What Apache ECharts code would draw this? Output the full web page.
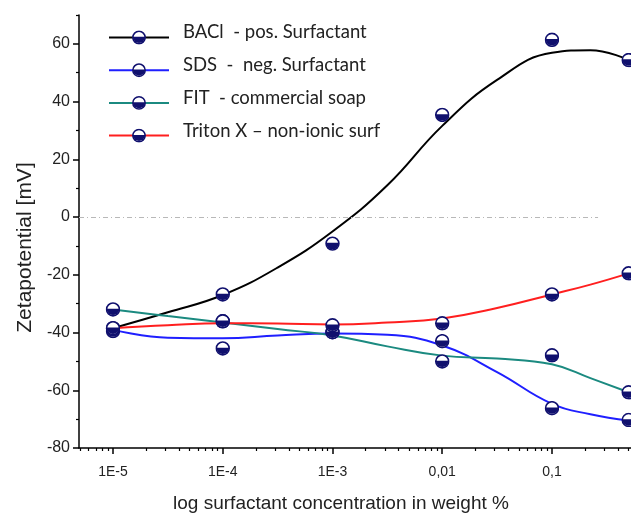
<!DOCTYPE html>
<html><head><meta charset="utf-8">
<script src="https://cdn.jsdelivr.net/npm/echarts@6/dist/echarts.min.js"></script>
<style>html,body{margin:0;padding:0;background:#fff}#c{width:631px;height:514px}</style>
</head><body><div id="c"></div>
<script>
// measured points (x = surfactant concentration in weight %)
const concentrations = [1e-5, 1e-4, 1e-3, 0.01, 0.1, 0.5];
const baclPoints   = [-38.5, -26.8, -9.2, 35.4, 61.4, 54.4];
const sdsPoints    = [-39.5, -45.5, -39.9, -43.0, -66.2, -70.3];
const fitPoints    = [-32.0, -36.1, -39.9, -50.0, -47.9, -60.7];
const tritonPoints = [-38.5, -36.1, -37.5, -36.8, -26.8, -19.5];

// fitted curves
const curveX      = [1e-5, 3.16e-5, 1e-4, 3.16e-4, 1e-3, 3.16e-3, 1e-2, 3.16e-2, 0.1, 0.224, 0.5];
const baclCurve   = [-38.5, -33.0, -27.0, -17.5, -5.0, 11.0, 31.6, 47.5, 56.9, 57.8, 54.4];
const sdsCurve    = [-39.0, -41.8, -42.0, -41.0, -40.3, -40.8, -44.5, -53.7, -64.7, -68.3, -70.5];
const fitCurve    = [-32.0, -34.3, -36.5, -38.8, -41.0, -44.8, -48.0, -49.0, -51.0, -55.8, -60.7];
const tritonCurve = [-38.5, -37.5, -36.8, -36.9, -37.2, -36.5, -35.1, -31.5, -26.8, -23.4, -19.5];

const seriesNames = ['BACl  - pos. Surfactant', 'SDS  -  neg. Surfactant', 'FIT  - commercial soap', 'Triton X \u2013 non-ionic surf'];
const seriesColors = ['#000000', '#1f1fff', '#1b8a80', '#ff1f1f'];

// axis ticks
const xMajorTicks = [1e-5, 1e-4, 1e-3, 0.01, 0.1];
const xTickLabels = ['1E-5', '1E-4', '1E-3', '0,01', '0,1'];
const xMinorTicks = [5e-6, 6e-6, 7e-6, 8e-6, 9e-6,
  2e-5, 3e-5, 4e-5, 5e-5, 6e-5, 7e-5, 8e-5, 9e-5,
  2e-4, 3e-4, 4e-4, 5e-4, 6e-4, 7e-4, 8e-4, 9e-4,
  2e-3, 3e-3, 4e-3, 5e-3, 6e-3, 7e-3, 8e-3, 9e-3,
  0.02, 0.03, 0.04, 0.05, 0.06, 0.07, 0.08, 0.09,
  0.2, 0.3, 0.4, 0.5];
const yMajorTicks = [-80, -60, -40, -20, 0, 20, 40, 60];
const yMinorTicks = [-70, -50, -30, -10, 10, 30, 50, 70];

const navy = '#10106e';
const svg = "<svg xmlns='http://www.w3.org/2000/svg' width='28' height='28' viewBox='0 0 28 28'>" +
  "<circle cx='14' cy='14' r='12' fill='#ffffff' stroke='" + navy + "' stroke-width='3'/>" +
  "<path d='M2 12.6 A12 12 0 0 0 26 12.6 Z' fill='" + navy + "'/></svg>";
const marker = 'image://data:image/svg+xml;charset=utf-8,' + encodeURIComponent(svg);

const pointSets = [baclPoints, sdsPoints, fitPoints, tritonPoints];
const curveSets = [baclCurve, sdsCurve, fitCurve, tritonCurve];

const series = [];
curveSets.forEach((c, i) => {
  const s = {
    name: seriesNames[i], type: 'line', smooth: 0.45,
    data: curveX.map((x, k) => [x, c[k]]),
    showSymbol: false, symbol: marker, symbolSize: 14,
    lineStyle: { color: seriesColors[i], width: 2 },
    itemStyle: { color: seriesColors[i] },
    z: 3
  };
  if (i === 0) {
    s.markLine = {
      silent: true, symbol: 'none', animation: false,
      label: { show: false },
      lineStyle: { color: '#b8b8b8', width: 1, type: [5, 3, 1, 3] },
      data: [[{ coord: [4.9e-6, 0] }, { coord: [0.263, 0] }]]
    };
  }
  series.push(s);
});
pointSets.forEach((p, i) => {
  series.push({
    name: seriesNames[i] + ' points', type: 'scatter',
    data: concentrations.map((x, k) => [x, p[k]]),
    symbol: marker, symbolSize: 15, z: 5,
    itemStyle: { opacity: 1 }
  });
});

const chart = echarts.init(document.getElementById('c'));
chart.setOption({
  animation: false,
  backgroundColor: '#ffffff',
  grid: { left: 79, right: 0, top: 15, bottom: 66, containLabel: false, outerBoundsMode: 'none' },
  legend: {
    data: seriesNames, orient: 'vertical', left: 103, top: 18,
    itemWidth: 60, itemHeight: 18, itemGap: 11,
    formatter: n => '{t|' + n + '}',
    textStyle: {
      fontFamily: 'Lato', fontSize: 18.5, color: '#222',
      rich: { t: { fontFamily: 'Lato', fontSize: 18.5, color: '#222', padding: [0, 0, 10, 9] } }
    }
  },
  xAxis: [{
    type: 'log', logBase: 10, min: 4.9e-6, max: 0.525,
    axisLine: { onZero: false, lineStyle: { color: '#000', width: 1.5 } },
    axisTick: { customValues: xMajorTicks, length: 6, lineStyle: { color: '#000', width: 1.5 } },
    axisLabel: {
      customValues: xMajorTicks, margin: 17, fontSize: 14, color: '#222', fontFamily: 'Liberation Sans',
      formatter: v => {
        const k = xMajorTicks.findIndex(t => Math.abs(Math.log10(t) - Math.log10(v)) < 0.01);
        return k >= 0 ? xTickLabels[k] : '';
      }
    },
    splitLine: { show: false },
    name: 'log surfactant concentration in weight %', nameLocation: 'middle', nameGap: 46,
    nameTextStyle: { fontFamily: 'Liberation Sans', fontSize: 19, color: '#222', padding: [0, 28, 0, 0] }
  }, {
    type: 'log', logBase: 10, min: 4.9e-6, max: 0.525, position: 'bottom',
    axisLine: { show: false, onZero: false },
    axisTick: { customValues: xMinorTicks, length: 3, lineStyle: { color: '#000', width: 1.2 } },
    axisLabel: { show: false }, splitLine: { show: false }
  }],
  yAxis: [{
    type: 'value', min: -80, max: 70,
    axisLine: { show: true, onZero: false, lineStyle: { color: '#000', width: 1.5 } },
    axisTick: { show: true, customValues: yMajorTicks, length: 6, lineStyle: { color: '#000', width: 1.5 } },
    axisLabel: { customValues: yMajorTicks, margin: 9, fontSize: 16, color: '#222', fontFamily: 'Liberation Sans' },
    splitLine: { show: false },
    name: 'Zetapotential [mV]', nameLocation: 'middle', nameGap: 38,
    nameTextStyle: { fontFamily: 'Liberation Sans', fontSize: 21, color: '#222', padding: [0, 32, 0, 0] }
  }, {
    type: 'value', min: -80, max: 70, position: 'left',
    axisLine: { show: false, onZero: false },
    axisTick: { show: true, customValues: yMinorTicks, length: 3, lineStyle: { color: '#000', width: 1.2 } },
    axisLabel: { show: false }, splitLine: { show: false }
  }],
  series: series
});
</script>
</body></html>
